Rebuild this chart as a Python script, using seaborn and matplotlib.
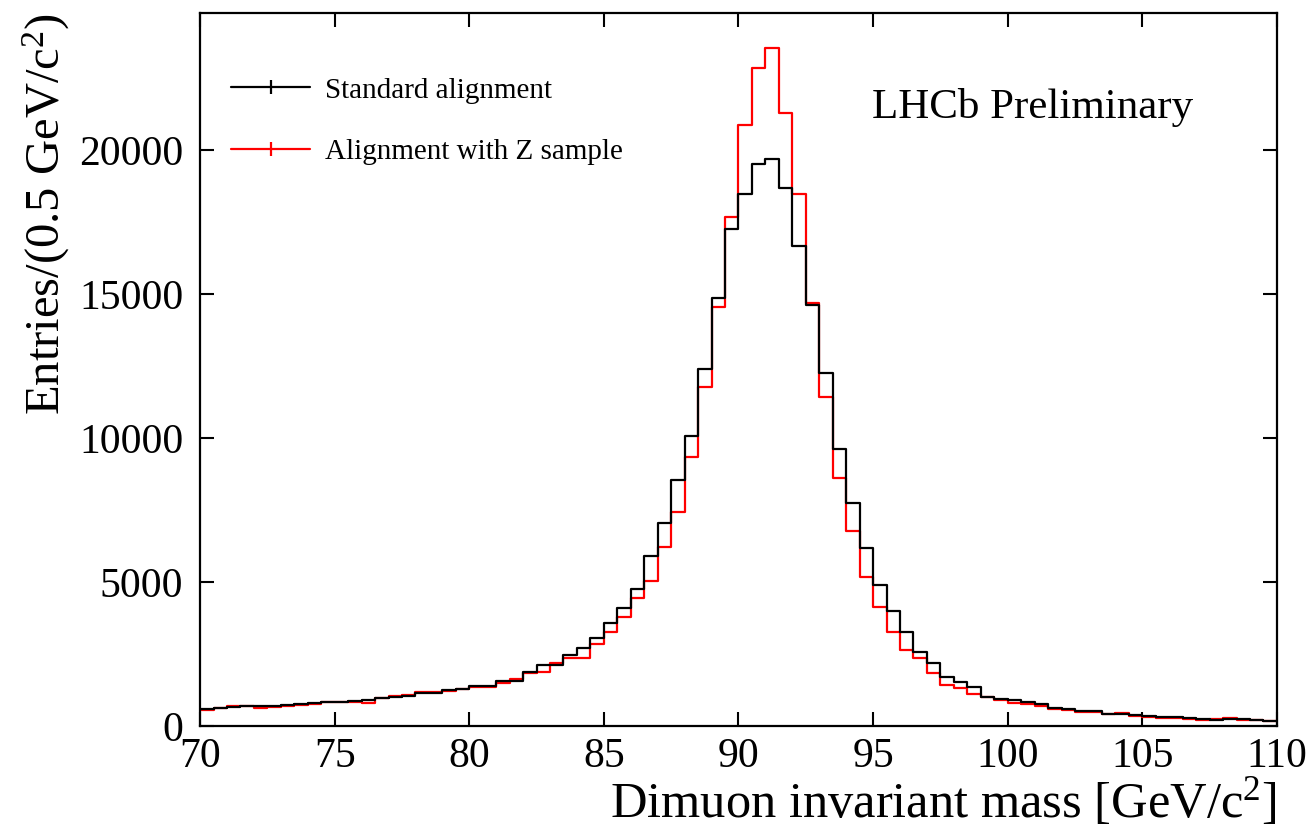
import numpy as np
import pandas as pd
import matplotlib
matplotlib.use("Agg")
import matplotlib.pyplot as plt
from matplotlib.lines import Line2D
import seaborn as sns

# ---- data: 80 bins of 0.5 GeV from 70 to 110 ----
mass_range = (70.0, 110.0)
bin_width = 0.5

standard = [600, 625, 650, 705, 685, 685, 740, 775, 810, 835,
            835, 855, 905, 985, 995, 1040, 1135, 1145, 1250, 1295,
            1400, 1390, 1560, 1575, 1865, 2130, 2105, 2455, 2700, 3065,
            3565, 4110, 4770, 5905, 7060, 8540, 10080, 12385, 14870, 17245,
            18460, 19500, 19665, 18670, 16665, 14600, 12265, 9615, 7755, 6180,
            4895, 3980, 3250, 2560, 2200, 1690, 1530, 1345, 1020, 940,
            890, 835, 765, 640, 580, 520, 510, 430, 430, 395,
            345, 300, 300, 265, 245, 210, 245, 230, 210, 185]

zsample = [570, 610, 680, 695, 640, 660, 705, 740, 775, 845,
           835, 820, 810, 985, 1040, 1075, 1170, 1190, 1215, 1275,
           1355, 1365, 1480, 1645, 1830, 1865, 2175, 2350, 2375, 2835,
           3275, 3775, 4460, 5050, 6225, 7420, 9330, 11760, 14540, 17670,
           20855, 22855, 23550, 21275, 18470, 14700, 11435, 8610, 6780, 5185,
           4145, 3275, 2640, 2350, 1850, 1425, 1310, 1110, 995, 905,
           800, 750, 685, 600, 555, 500, 485, 415, 465, 360,
           315, 290, 280, 245, 220, 230, 265, 195, 210, 185]

series_labels = ["Standard alignment", "Alignment with Z sample"]
series_colors = ["black", "#ff0000"]

x_ticks = [70, 75, 80, 85, 90, 95, 100, 105, 110]
y_ticks = [0, 5000, 10000, 15000, 20000]

centers = mass_range[0] + bin_width * (np.arange(len(standard)) + 0.5)
df = pd.DataFrame({
    "mass": np.concatenate([centers, centers]),
    "entries": np.concatenate([standard, zsample]),
    "series": [series_labels[0]] * len(centers) + [series_labels[1]] * len(centers),
})

sns.set_theme(style="ticks")
plt.rcParams["font.family"] = ["Liberation Serif", "DejaVu Serif"]
plt.rcParams["mathtext.fontset"] = "custom"
plt.rcParams["mathtext.rm"] = "Liberation Serif"
plt.rcParams["mathtext.it"] = "Liberation Serif"
plt.rcParams["mathtext.default"] = "regular"
plt.rcParams["text.color"] = "black"
plt.rcParams["axes.labelcolor"] = "black"
plt.rcParams["xtick.color"] = "black"
plt.rcParams["ytick.color"] = "black"

fig = plt.figure(figsize=(13.11, 8.34), dpi=100)
ax = fig.add_axes([0.1526, 0.1295, 0.8214, 0.8549])

# red first, black on top
for lab, col in [(series_labels[1], series_colors[1]), (series_labels[0], series_colors[0])]:
    sub = df[df["series"] == lab]
    sns.histplot(data=sub, x="mass", weights="entries", binwidth=bin_width,
                 binrange=mass_range, element="step", fill=False, color=col,
                 linewidth=1.6, ax=ax)

ax.set_xlim(70, 110)
ax.set_ylim(0, 24750)
ax.set_xticks(x_ticks)
ax.set_yticks(y_ticks)
ax.set_xticklabels([str(t) for t in x_ticks])
ax.set_yticklabels([str(t) for t in y_ticks])
ax.tick_params(axis="both", which="major", direction="in", length=10, width=1.5,
               top=True, right=True, labelsize=30, pad=8, colors="black")
ax.tick_params(axis="y", pad=12)
for sp in ax.spines.values():
    sp.set_linewidth(1.6)
    sp.set_color("black")
    sp.set_visible(True)

ax.set_xlabel(r"Dimuon invariant mass [GeV/c$^{2}$]", fontsize=36.4, loc="right",
              labelpad=0, color="black")
ax.set_ylabel(r"Entries/(0.5 GeV/c$^{2}$)", fontsize=35, loc="top", labelpad=5,
              color="black")

ax.text(0.922, 0.867, "LHCb Preliminary", transform=ax.transAxes, fontsize=31,
        ha="right", va="center", color="black")

handles = [Line2D([0], [0], color=c, lw=1.6, marker="|", markersize=10, markeredgewidth=1.6)
           for c in series_colors]
leg = ax.legend(handles, series_labels, loc="upper left", bbox_to_anchor=(0.029, 0.910),
                frameon=False, fontsize=21, handlelength=2.7, handletextpad=0.5,
                labelspacing=1.2, borderpad=0, borderaxespad=0)
for t in leg.get_texts():
    t.set_color("black")

fig.savefig("out.png", dpi=100)
